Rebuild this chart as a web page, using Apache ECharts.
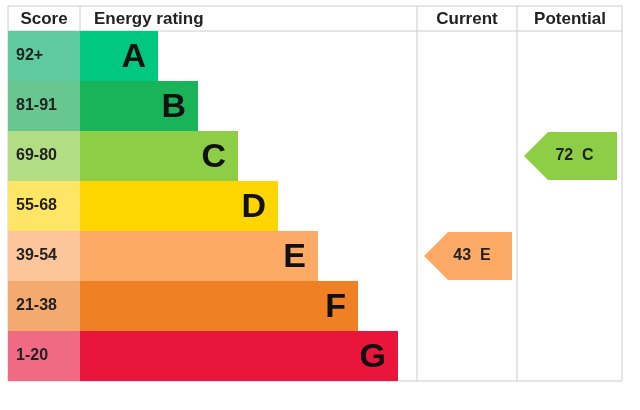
<!DOCTYPE html>
<html><head><meta charset="utf-8">
<script src="https://cdn.jsdelivr.net/npm/echarts@6/dist/echarts.min.js"></script>
<style>html,body{margin:0;padding:0;background:#fff}#c{width:640px;height:410px}</style>
</head><body><div id="c"></div>
<script>
const bands = ['A','B','C','D','E','F','G'];
const scoreLabels = ['92+','81-91','69-80','55-68','39-54','21-38','1-20'];
const barEnds = [150,190,230,270,310,350,390];
const barColors = ['#00c781','#19b459','#8dce46','#ffd500','#fcaa65','#ef8023','#e9153b'];
const scoreColors = ['#5fcaa0','#68c78f','#b3dd85','#ffe566','#fdc59a','#f4aa6e','#f06a84'];
const headers = ['Score','Energy rating','Current','Potential'];
const current = {score:43, band:'E'};
const potential = {score:72, band:'C'};
const scoreColEnd = 72, curStart = 409, potStart = 509, tableEnd = 614;

const chart = echarts.init(document.getElementById('c'));
const font = 'Arial, "Liberation Sans", sans-serif';

function arrow(params, api, colStart, colEnd){
  const idx = api.value(0);
  const c = api.coord([colStart, idx]);
  const e = api.coord([colEnd, idx]);
  const h = api.size([0,1])[1];
  const x0 = c[0]+7, x1 = e[0]-5, y0 = c[1]-h/2+1, y1 = c[1]+h/2-1, ym = c[1];
  return {type:'group', children:[
    {type:'polygon', shape:{points:[[x0,ym],[x0+24,y0],[x1,y0],[x1,y1],[x0+24,y1]]}, style:{fill:api.value(3)}},
    {type:'text', style:{x:(x0+x1)/2+4, y:ym, text:api.value(1)+'  '+api.value(2), fill:'#222', font:'bold 16px '+font, align:'center', verticalAlign:'middle'}}
  ]};
}

chart.setOption({
  animation:false,
  grid:{left:8, right:18, top:31, bottom:29},
  xAxis:{type:'value', min:0, max:614, show:false},
  yAxis:{type:'category', data:bands, inverse:true, show:false},
  graphic:[
    {type:'rect', shape:{x:8,y:6,width:614,height:375}, style:{fill:'none', stroke:'#ccc', lineWidth:1}},
    {type:'line', shape:{x1:8,y1:31,x2:622,y2:31}, style:{stroke:'#ccc'}},
    {type:'line', shape:{x1:80,y1:6,x2:80,y2:31}, style:{stroke:'#ccc'}},
    {type:'line', shape:{x1:417,y1:6,x2:417,y2:381}, style:{stroke:'#ccc'}},
    {type:'line', shape:{x1:517,y1:6,x2:517,y2:381}, style:{stroke:'#ccc'}},
    {type:'text', style:{x:44,y:19,text:headers[0],font:'bold 17px '+font,fill:'#222',align:'center',verticalAlign:'middle'}},
    {type:'text', style:{x:94,y:19,text:headers[1],font:'bold 17px '+font,fill:'#222',align:'left',verticalAlign:'middle'}},
    {type:'text', style:{x:467,y:19,text:headers[2],font:'bold 17px '+font,fill:'#222',align:'center',verticalAlign:'middle'}},
    {type:'text', style:{x:570,y:19,text:headers[3],font:'bold 17px '+font,fill:'#222',align:'center',verticalAlign:'middle'}}
  ],
  series:[
    {type:'custom', data:bands.map((b,i)=>[i, barEnds[i], b, scoreLabels[i], barColors[i], scoreColors[i]]),
     renderItem:(params, api)=>{
       const idx = api.value(0);
       const s = api.coord([0, idx]), m = api.coord([scoreColEnd, idx]), e = api.coord([api.value(1), idx]);
       const h = api.size([0,1])[1];
       const y0 = s[1]-h/2;
       return {type:'group', children:[
         {type:'rect', shape:{x:s[0],y:y0,width:m[0]-s[0],height:h}, style:{fill:api.value(5)}},
         {type:'rect', shape:{x:m[0],y:y0,width:e[0]-m[0],height:h}, style:{fill:api.value(4)}},
         {type:'text', style:{x:s[0]+8,y:s[1],text:api.value(3),font:'bold 16px '+font,fill:'#222',verticalAlign:'middle'}},
         {type:'text', style:{x:e[0]-12,y:s[1]+2,text:api.value(2),font:'bold 34px '+font,fill:'#111',align:'right',verticalAlign:'middle'}}
       ]};
     }},
    {type:'custom', data:[[bands.indexOf(current.band), current.score, current.band, barColors[bands.indexOf(current.band)]]],
     renderItem:(p,api)=>arrow(p,api,curStart,potStart)},
    {type:'custom', data:[[bands.indexOf(potential.band), potential.score, potential.band, barColors[bands.indexOf(potential.band)]]],
     renderItem:(p,api)=>arrow(p,api,potStart,tableEnd)}
  ]
});
</script></body></html>
